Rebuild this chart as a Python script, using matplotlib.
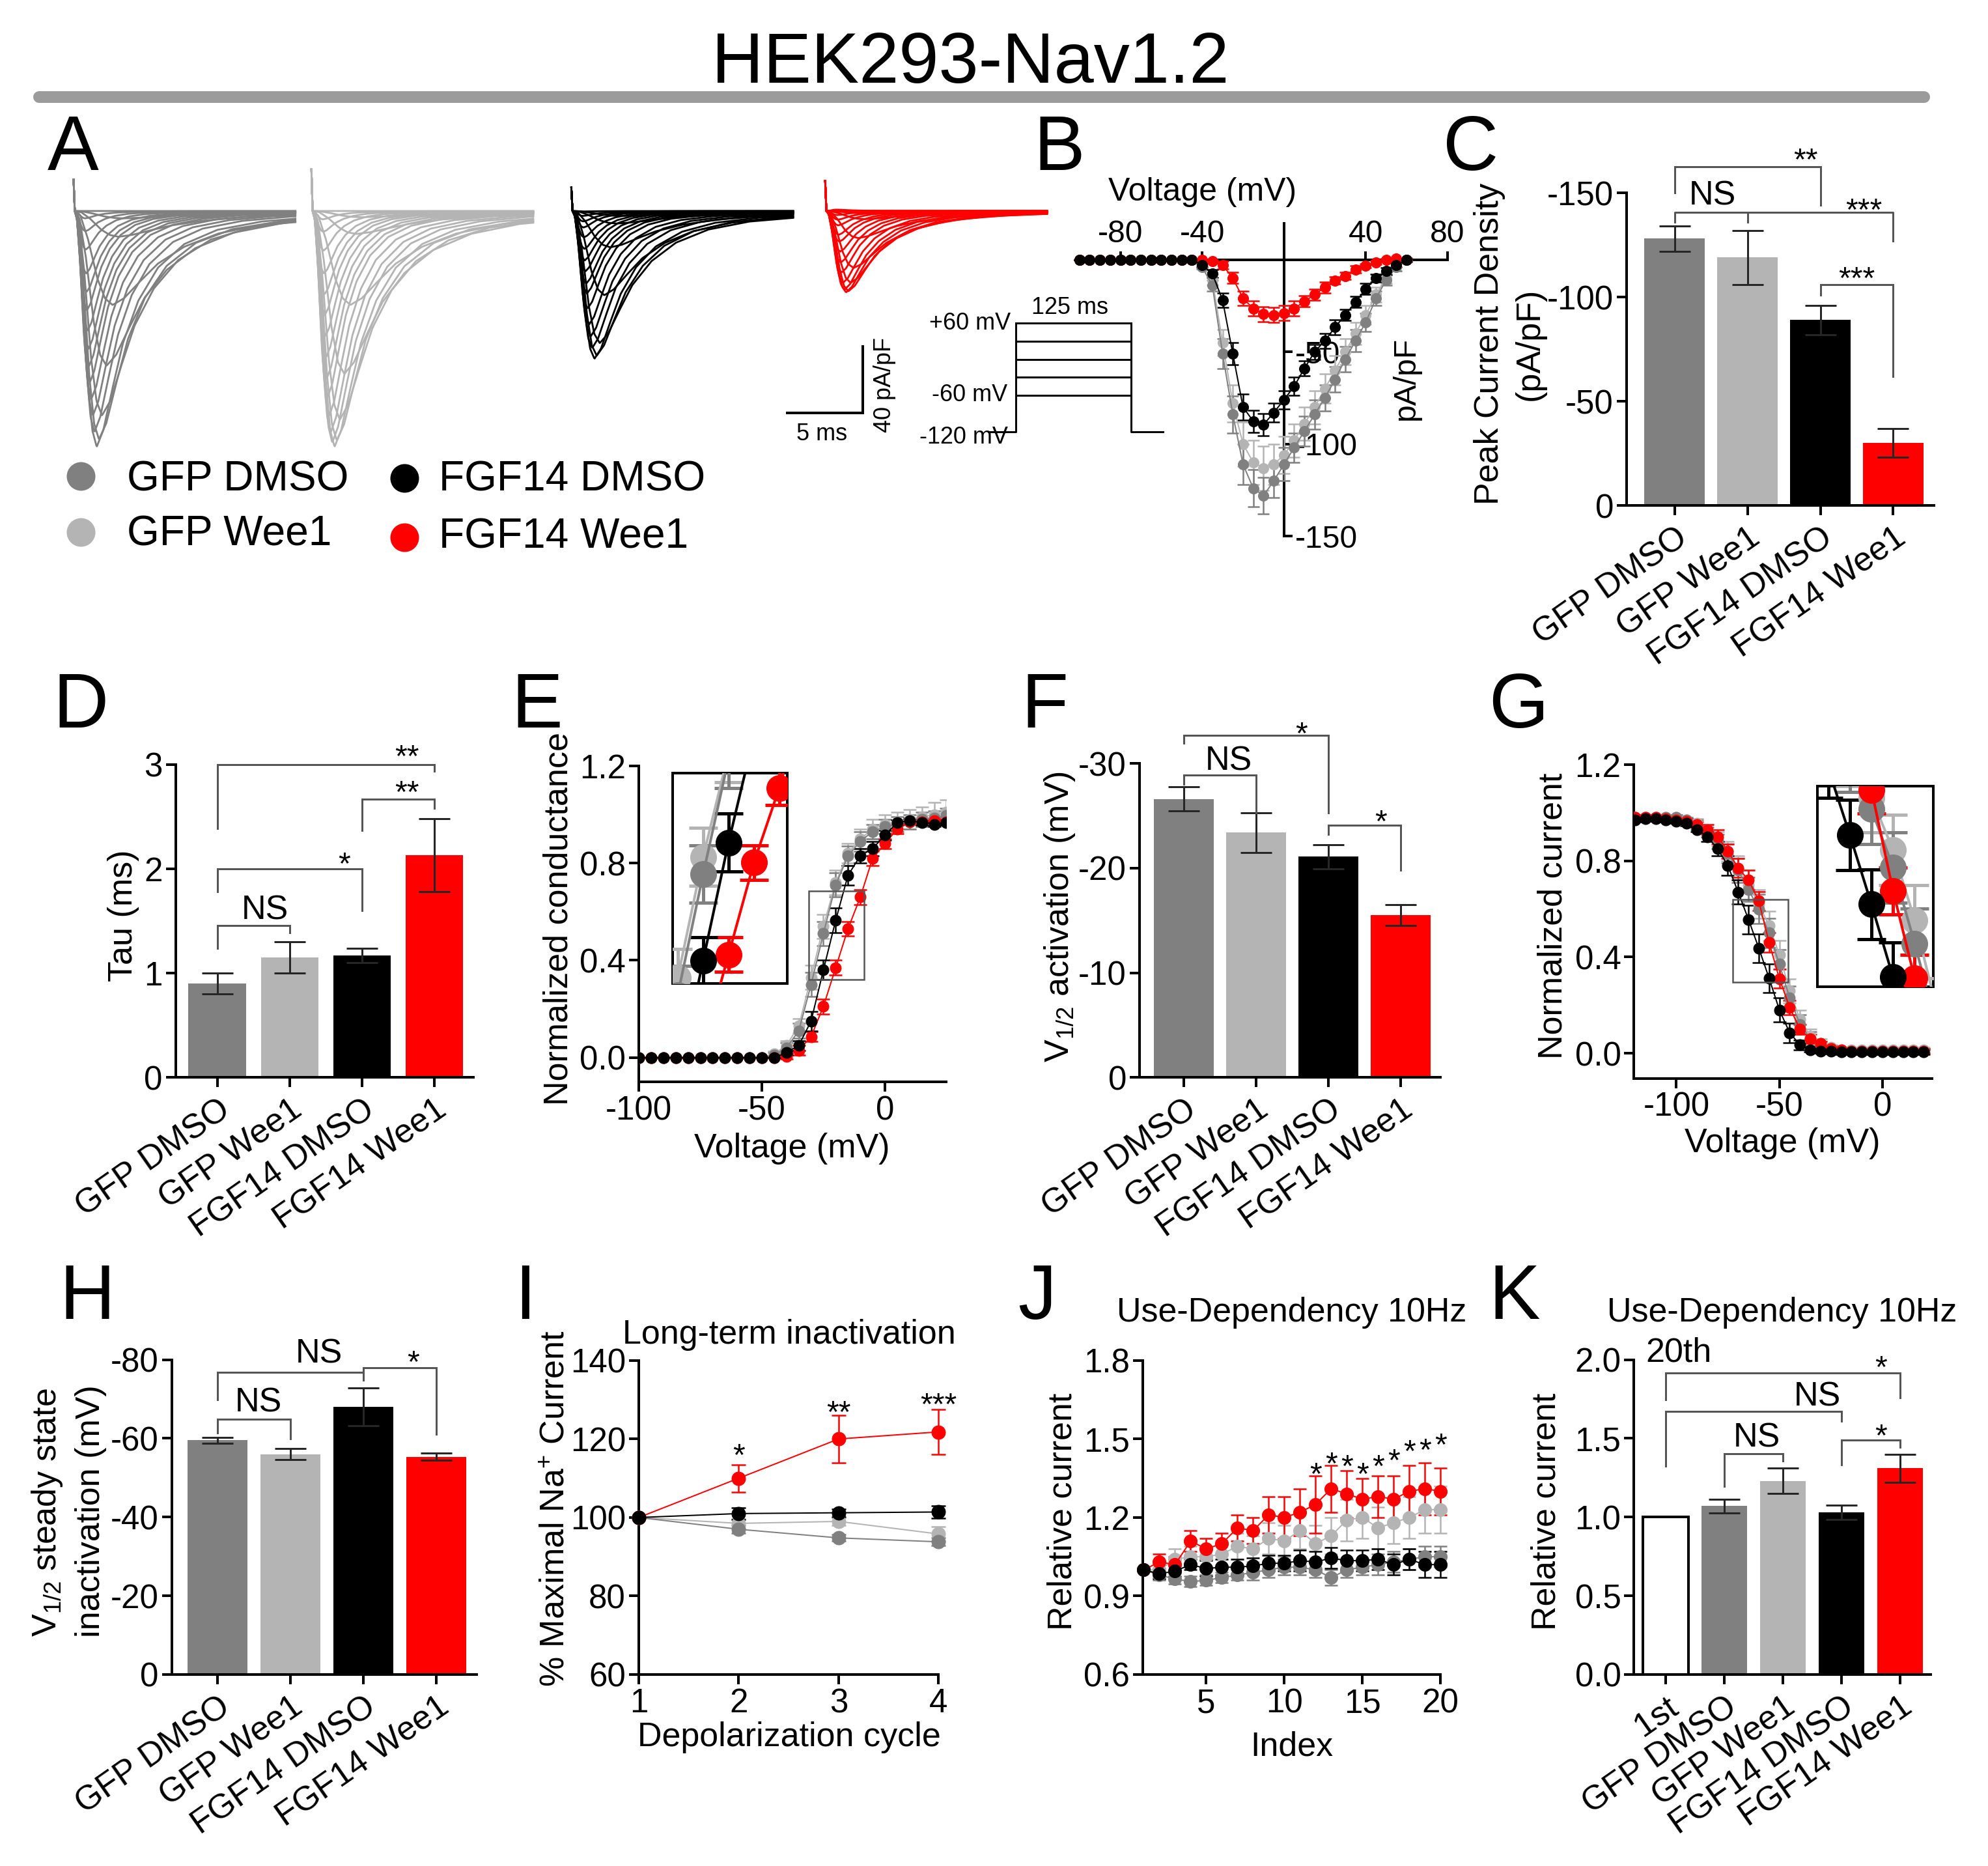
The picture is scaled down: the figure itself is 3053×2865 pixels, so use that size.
import matplotlib
matplotlib.use("Agg")
import matplotlib.pyplot as plt
from matplotlib.lines import Line2D
from matplotlib.patches import Rectangle
import numpy as np

W, H, DPI = 3053, 2865, 72

plt.rcParams["font.family"] = ["Liberation Sans", "DejaVu Sans"]
plt.rcParams["mathtext.fontset"] = "custom"
plt.rcParams["mathtext.rm"] = "Liberation Sans"
plt.rcParams["mathtext.it"] = "Liberation Sans:italic"
plt.rcParams["mathtext.bf"] = "Liberation Sans:bold"
plt.rcParams["axes.unicode_minus"] = False
plt.rcParams["axes.facecolor"] = "none"

GROUPS = ["GFP DMSO", "GFP Wee1", "FGF14 DMSO", "FGF14 Wee1"]
COLORS = {"GFP DMSO": "#808080", "GFP Wee1": "#b4b4b4",
          "FGF14 DMSO": "#000000", "FGF14 Wee1": "#ff0000"}
DRAW_ORDER = ["GFP Wee1", "GFP DMSO", "FGF14 Wee1", "FGF14 DMSO"]

# ---- A: example current families ----
A_PEAK = {"GFP DMSO": 142, "GFP Wee1": 142, "FGF14 DMSO": 89, "FGF14 Wee1": 49}
A_SPIKE = {"GFP DMSO": 19, "GFP Wee1": 25, "FGF14 DMSO": 14, "FGF14 Wee1": 18}
A_START_MS = {"GFP DMSO": 0.56, "GFP Wee1": 16.3, "FGF14 DMSO": 33.5, "FGF14 Wee1": 50.3}
A_SWEEP_MS = 14.6
# time stretch of each sweep, -40 .. +60 mV
A_KINETIC = [3.2, 2.9, 2.5, 2.1, 1.8, 1.6, 1.45, 1.3, 1.2, 1.1, 1.0,
             0.95, 0.9, 0.85, 0.8, 0.78, 0.75, 0.72, 0.7, 0.68, 0.66]
TRACE_T = [0, 0.15, 0.35, 0.6, 0.8, 1.0, 1.3, 1.7, 2.2, 2.9, 3.8, 5.0, 6.5, 8.5, 11.0, 15.0]
TRACE_I = [0, -0.05, -0.3, -0.72, -0.93, -1.0, -0.93, -0.76, -0.56, -0.38, -0.24,
           -0.14, -0.08, -0.045, -0.025, -0.015]
PROTOCOL_STEPS = [60, 30, 0, -30, -60]
PROTOCOL_HOLD = -120
PROTOCOL_MS = 125

# ---- B: I-V (pA/pF), -100..+60 mV ----
IV_V = list(range(-100, 65, 5))
IV = {
    "GFP DMSO": [0, 0, 0, 0, 0, 0, 0, 0, 0, 0, 0, 0,
                 -4, -14, -51, -84, -111, -124, -128, -120, -111, -102, -93,
                 -84, -75, -65, -54, -44, -34, -21, -11, -4, 0],
    "GFP Wee1": [0, 0, 0, 0, 0, 0, 0, 0, 0, 0, 0, 0,
                 -3, -11, -45, -78, -100, -110, -113, -111, -106, -98, -89,
                 -80, -70, -60, -50, -40, -30, -19, -10, -4, 0],
    "FGF14 DMSO": [0, 0, 0, 0, 0, 0, 0, 0, 0, 0, 0, 0,
                   -3, -7.6, -22, -51, -80, -87.6, -89.5, -83, -76, -68.7, -59,
                   -50, -44, -36.6, -30, -23, -16, -10, -6.3, -3, -0.3],
    "FGF14 Wee1": [0, 0, 0, 0, 0, 0, 0, 0, 0, 0, 0, 0,
                   0, -1, -3, -10, -21, -26.5, -29.6, -30, -29, -26.5, -22.7,
                   -19, -15, -11.3, -8.8, -5.3, -3.2, -1.5, -0.3, 0.5, 0],
}
IV_ERR = {
    "GFP DMSO": [0, 0, 0, 0, 0, 0, 0, 0, 0, 0, 0, 0,
                 1, 3, 8, 10, 11, 10, 10, 9, 9, 8, 8, 8, 7, 7, 7, 6, 5, 4, 3, 2, 1],
    "GFP Wee1": [0, 0, 0, 0, 0, 0, 0, 0, 0, 0, 0, 0,
                 1, 3, 7, 10, 12, 12, 12, 11, 10, 9, 9, 9, 8, 8, 7, 6, 5, 4, 3, 2, 1],
    "FGF14 DMSO": [0, 0, 0, 0, 0, 0, 0, 0, 0, 0, 0, 0,
                   1, 2, 4, 6, 7, 6, 6, 5, 5, 5, 4, 4, 4, 4, 3, 3, 3, 2, 2, 1, 1],
    "FGF14 Wee1": [0, 0, 0, 0, 0, 0, 0, 0, 0, 0, 0, 0,
                   0, 1, 2, 3, 4, 4, 4, 4, 4, 4, 3, 3, 3, 2, 2, 2, 1, 1, 1, 0, 0],
}

# ---- C: peak current density ----
C_MEAN = [-128, -119, -89, -30]
C_SEM = [6, 13, 7, 7]

# ---- D: tau ----
D_MEAN = [0.9, 1.15, 1.17, 2.13]
D_SEM = [0.1, 0.15, 0.07, 0.35]

# ---- E: activation (normalized conductance), -100..+25 mV ----
E_V = list(range(-100, 30, 5))
E_G = {
    "GFP DMSO": [0, 0, 0, 0, 0, 0, 0, 0, 0, 0, 0, 0.01, 0.04, 0.11, 0.30, 0.51, 0.71,
                 0.83, 0.89, 0.93, 0.95, 0.96, 0.97, 0.98, 0.985, 0.995],
    "GFP Wee1": [0, 0, 0, 0, 0, 0, 0, 0, 0, 0, 0, 0.015, 0.05, 0.13, 0.33, 0.54, 0.72,
                 0.84, 0.90, 0.94, 0.96, 0.97, 0.98, 0.99, 1.0, 1.01],
    "FGF14 DMSO": [0, 0, 0, 0, 0, 0, 0, 0, 0, 0, 0, 0, 0.02, 0.05, 0.15, 0.36, 0.565,
                   0.75, 0.83, 0.86, 0.915, 0.967, 0.976, 0.967, 0.96, 0.967],
    "FGF14 Wee1": [0, 0, 0, 0, 0, 0, 0, 0, 0, 0, 0, 0, 0.005, 0.03, 0.086, 0.21, 0.37,
                   0.53, 0.66, 0.82, 0.88, 0.94, 0.97, 0.97, 0.976, 0.97],
}
E_ERR = {
    "GFP DMSO": [0, 0, 0, 0, 0, 0, 0, 0, 0, 0, 0, 0.01, 0.02, 0.03, 0.05, 0.05, 0.05,
                 0.04, 0.04, 0.03, 0.03, 0.03, 0.03, 0.03, 0.03, 0.03],
    "GFP Wee1": [0, 0, 0, 0, 0, 0, 0, 0, 0, 0, 0, 0.01, 0.02, 0.03, 0.05, 0.05, 0.05,
                 0.04, 0.04, 0.04, 0.04, 0.04, 0.04, 0.04, 0.05, 0.05],
    "FGF14 DMSO": [0, 0, 0, 0, 0, 0, 0, 0, 0, 0, 0, 0, 0.01, 0.02, 0.04, 0.04, 0.05,
                   0.04, 0.03, 0.03, 0.02, 0.01, 0.01, 0.01, 0.01, 0.01],
    "FGF14 Wee1": [0, 0, 0, 0, 0, 0, 0, 0, 0, 0, 0, 0, 0.01, 0.02, 0.02, 0.03, 0.03,
                   0.03, 0.03, 0.03, 0.02, 0.02, 0.01, 0.01, 0.01, 0.01],
}

# ---- F: V1/2 activation ----
F_MEAN = [-26.6, -23.4, -21.1, -15.5]
F_SEM = [1.15, 1.9, 1.15, 1.0]

# ---- G: steady-state inactivation, -120..+20 mV ----
G_V = list(range(-120, 25, 5))
G_I = {
    "GFP DMSO": [0.98, 0.98, 0.98, 0.98, 0.98, 0.97, 0.95, 0.92, 0.88, 0.83, 0.76, 0.68,
                 0.60, 0.50, 0.37, 0.23, 0.12, 0.06, 0.03, 0.02, 0.01, 0.01, 0.01,
                 0.01, 0.01, 0.01, 0.01, 0.01, 0.01],
    "GFP Wee1": [0.98, 0.98, 0.98, 0.98, 0.98, 0.97, 0.955, 0.93, 0.89, 0.84, 0.77, 0.70,
                 0.62, 0.53, 0.41, 0.26, 0.14, 0.07, 0.04, 0.025, 0.015, 0.015, 0.015,
                 0.015, 0.015, 0.015, 0.015, 0.015, 0.015],
    "FGF14 DMSO": [0.97, 0.975, 0.975, 0.97, 0.965, 0.955, 0.93, 0.90, 0.85, 0.78, 0.67,
                   0.556, 0.437, 0.312, 0.18, 0.085, 0.035, 0.015, 0.01, 0.008, 0.005,
                   0.005, 0.005, 0.005, 0.005, 0.005, 0.005, 0.005, 0.005],
    "FGF14 Wee1": [0.98, 0.98, 0.98, 0.975, 0.97, 0.965, 0.95, 0.93, 0.90, 0.84, 0.77,
                   0.72, 0.633, 0.46, 0.31, 0.19, 0.10, 0.06, 0.04, 0.02, 0.015, 0.01,
                   0.01, 0.01, 0.01, 0.01, 0.01, 0.01, 0.01],
}
G_ERR = {
    "GFP DMSO": [0.01, 0.01, 0.01, 0.01, 0.01, 0.01, 0.02, 0.02, 0.03, 0.04, 0.05, 0.05,
                 0.06, 0.06, 0.06, 0.05, 0.04, 0.03, 0.02, 0.01, 0.01, 0.01, 0.01,
                 0.01, 0.01, 0.01, 0.01, 0.01, 0.01],
    "GFP Wee1": [0.01, 0.01, 0.01, 0.01, 0.01, 0.01, 0.02, 0.02, 0.03, 0.04, 0.05, 0.06,
                 0.06, 0.06, 0.06, 0.05, 0.04, 0.03, 0.02, 0.01, 0.01, 0.01, 0.01,
                 0.01, 0.01, 0.01, 0.01, 0.01, 0.01],
    "FGF14 DMSO": [0.01, 0.01, 0.01, 0.01, 0.01, 0.01, 0.01, 0.02, 0.03, 0.04, 0.05, 0.06,
                   0.06, 0.06, 0.05, 0.04, 0.02, 0.01, 0.01, 0.01, 0.01, 0.01, 0.01,
                   0.01, 0.01, 0.01, 0.01, 0.01, 0.01],
    "FGF14 Wee1": [0.01, 0.01, 0.01, 0.01, 0.01, 0.01, 0.01, 0.02, 0.03, 0.03, 0.04, 0.04,
                   0.04, 0.04, 0.04, 0.03, 0.02, 0.02, 0.01, 0.01, 0.01, 0.01, 0.01,
                   0.01, 0.01, 0.01, 0.01, 0.01, 0.01],
}

# ---- H: V1/2 steady-state inactivation ----
H_MEAN = [-59.5, -56.0, -68.0, -55.3]
H_SEM = [0.8, 1.4, 4.8, 0.9]

# ---- I: long-term inactivation ----
I_CYCLE = [1, 2, 3, 4]
I_MEAN = {"GFP DMSO": [100, 97, 94.8, 93.8], "GFP Wee1": [100, 98.5, 99, 95.8],
          "FGF14 DMSO": [100, 101, 101.2, 101.4], "FGF14 Wee1": [100, 110, 120, 121.8]}
I_SEM = {"GFP DMSO": [0, 1, 0.8, 1], "GFP Wee1": [0, 1.2, 1.0, 1.8],
         "FGF14 DMSO": [0, 1.5, 1, 1.6], "FGF14 Wee1": [0, 3.5, 6, 5.7]}
I_STARS = ["", "*", "**", "***"]

# ---- J: use-dependency 10 Hz ----
J_INDEX = list(range(1, 21))
J_MEAN = {
    "GFP DMSO": [1.0, 0.98, 0.965, 0.955, 0.96, 0.97, 0.98, 0.99, 1.0, 1.01, 1.01, 1.0,
                 0.97, 1.0, 1.01, 1.02, 1.03, 1.04, 1.05, 1.05],
    "GFP Wee1": [1.0, 1.0, 1.04, 1.05, 1.05, 1.06, 1.09, 1.08, 1.12, 1.11, 1.15, 1.10,
                 1.13, 1.19, 1.20, 1.16, 1.18, 1.20, 1.23, 1.23],
    "FGF14 DMSO": [1.0, 0.985, 0.995, 1.02, 1.005, 1.01, 1.01, 1.015, 1.025, 1.025, 1.035,
                   1.03, 1.045, 1.035, 1.035, 1.04, 1.02, 1.04, 1.02, 1.02],
    "FGF14 Wee1": [1.0, 1.03, 1.02, 1.11, 1.08, 1.10, 1.16, 1.15, 1.21, 1.20, 1.22, 1.25,
                   1.31, 1.29, 1.27, 1.28, 1.27, 1.30, 1.31, 1.30],
}
J_SEM = {
    "GFP DMSO": [0, 0.02, 0.02, 0.02, 0.02, 0.02, 0.02, 0.03, 0.03, 0.03, 0.03, 0.03,
                 0.03, 0.03, 0.03, 0.04, 0.04, 0.04, 0.04, 0.04],
    "GFP Wee1": [0, 0.03, 0.04, 0.04, 0.04, 0.05, 0.05, 0.05, 0.06, 0.06, 0.07, 0.07,
                 0.07, 0.08, 0.08, 0.08, 0.08, 0.08, 0.09, 0.09],
    "FGF14 DMSO": [0, 0.02, 0.02, 0.02, 0.03, 0.03, 0.03, 0.03, 0.03, 0.03, 0.04, 0.04,
                   0.04, 0.04, 0.04, 0.04, 0.04, 0.04, 0.05, 0.05],
    "FGF14 Wee1": [0, 0.03, 0.03, 0.04, 0.04, 0.04, 0.05, 0.05, 0.07, 0.08, 0.09, 0.11,
                   0.09, 0.09, 0.08, 0.08, 0.09, 0.10, 0.10, 0.09],
}
J_STAR_INDEX = [12, 13, 14, 15, 16, 17, 18, 19, 20]
J_STAR_Y = [1.40, 1.44, 1.43, 1.40, 1.43, 1.45, 1.485, 1.49, 1.51]

# ---- K: 20th pulse ----
K_LABELS = ["1st"] + GROUPS
K_MEAN = [1.0, 1.07, 1.23, 1.03, 1.31]
K_SEM = [0.0, 0.045, 0.08, 0.045, 0.09]

FS = 52
TICK_FS = 51


def px_axes(fig, left, top, right, bottom):
    return fig.add_axes([left / W, 1 - bottom / H, (right - left) / W, (bottom - top) / H])


def ftext(fig, x, y, s, **kw):
    return fig.text(x / W, 1 - y / H, s, **kw)


def style(ax, labelsize=TICK_FS):
    for s in ["top", "right"]:
        ax.spines[s].set_visible(False)
    for s in ["left", "bottom"]:
        ax.spines[s].set_linewidth(4)
    ax.tick_params(width=4, length=15, labelsize=labelsize, pad=5, direction="out")


def mark(ax, x, y, s, fs=FS, em=0.358):
    # place text so that its visual centre sits on (x, y)
    ax.annotate(s, (x, y), xytext=(0, -em * fs), textcoords="offset points",
                ha="center", va="baseline", fontsize=fs, annotation_clip=False, zorder=6)


def star(ax, x, y, s):
    mark(ax, x, y, s, fs=48, em=0.585)


def bracket(ax, x1, x2, y, y1, y2):
    ax.plot([x1, x1, x2, x2], [y1, y, y, y2], color="#555555", lw=3,
            clip_on=False, zorder=5, solid_joinstyle="miter")


def bar_panel(ax, labels, vals, errs, colors, width, ylim, yticks, ylabels, xlim,
              edge=None):
    x = np.arange(len(vals))
    ax.bar(x, vals, width=width, color=colors, zorder=2,
           edgecolor=edge if edge else colors, linewidth=4 if edge else 0)
    keep = [i for i, e in enumerate(errs) if e > 0]
    ax.errorbar(x[keep], np.array(vals)[keep], yerr=np.array(errs)[keep], fmt="none",
                ecolor="#262626", elinewidth=3, capsize=24, capthick=3, zorder=3)
    style(ax)
    ax.set_xlim(*xlim)
    ax.set_ylim(*ylim)
    ax.set_yticks(yticks)
    ax.set_yticklabels(ylabels)
    ax.set_xticks(x)
    ax.set_xticklabels(labels, rotation=35, ha="right", va="top",
                       rotation_mode="anchor", fontsize=FS)
    ax.tick_params(axis="x", pad=10)


def curves(ax, xs, ys, errs, ms, lw, cap, elw):
    for name in DRAW_ORDER:
        ax.errorbar(xs, ys[name], yerr=errs[name], fmt="-o", color=COLORS[name],
                    ecolor=COLORS[name], ms=ms, lw=lw, elinewidth=elw, capsize=cap,
                    capthick=elw, zorder=3, clip_on=True)


fig = plt.figure(figsize=(W / DPI, H / DPI), dpi=DPI)

# title and rule
ftext(fig, 1490, 127, "HEK293-Nav1.2", fontsize=110, ha="center", va="baseline")
fig.add_artist(Line2D([60 / W, 2955 / W], [1 - 149 / H, 1 - 149 / H], lw=18,
                      color="#9b9b9b", solid_capstyle="round"))

for s, x, y in [("A", 73, 261), ("B", 1587, 261), ("C", 2216, 261),
                ("D", 81, 1117), ("E", 785, 1117), ("F", 1568, 1117), ("G", 2286, 1117),
                ("H", 91, 2025), ("I", 790, 2025), ("J", 1563, 2025), ("K", 2286, 2025)]:
    ftext(fig, x, y, s, fontsize=118, va="baseline", ha="left")

# ---------------- A ----------------
axA = px_axes(fig, 100, 250, 1620, 720)
axA.set_xlim(0, 65.5)
axA.set_ylim(-155.3, 29.0)
axA.axis("off")
for name in GROUPS:
    iv = np.array(IV[name][12:], dtype=float)
    rel = iv / iv.min()
    t0 = A_START_MS[name]
    grid = np.linspace(0, A_SWEEP_MS, 400)
    for r, k in zip(rel, A_KINETIC):
        y = A_PEAK[name] * r * np.interp(grid, np.array(TRACE_T) * k, TRACE_I)
        xx = np.concatenate([[t0], t0 + 0.08 + grid])
        yy = np.concatenate([[A_SPIKE[name]], y])
        axA.plot(xx, yy, color=COLORS[name], lw=2.8, solid_joinstyle="round")
# scale bar 5 ms / 40 pA/pF
axA.plot([52.8 - 5, 52.8, 52.8], [-121.6, -121.6, -121.6 + 40], color="black", lw=4,
         solid_joinstyle="miter")
ftext(fig, 1262, 667, "5 ms", fontsize=36, ha="center", va="center")
ftext(fig, 1358, 591, "40 pA/pF", fontsize=36, ha="center", va="center", rotation=90)

# voltage protocol
axP = px_axes(fig, 1518, 496, 1786, 662.5)
axP.set_xlim(-30, 160)
axP.set_ylim(PROTOCOL_HOLD, 60)
axP.axis("off")
for lv in PROTOCOL_STEPS:
    axP.plot([0, PROTOCOL_MS], [lv, lv], color="black", lw=3, clip_on=False)
axP.plot([-30, 0, 0], [PROTOCOL_HOLD, PROTOCOL_HOLD, max(PROTOCOL_STEPS)],
         color="black", lw=3, clip_on=False)
axP.plot([PROTOCOL_MS, PROTOCOL_MS, 160], [max(PROTOCOL_STEPS), PROTOCOL_HOLD, PROTOCOL_HOLD],
         color="black", lw=3, clip_on=False)
axP.text(-6, 60, "+60 mV", fontsize=36, ha="right", va="center")
axP.text(-9, -60, "-60 mV", fontsize=36, ha="right", va="center")
axP.text(-9, -130, "-120 mV", fontsize=36, ha="right", va="center")
axP.text(58.8, 85, "125 ms", fontsize=36, ha="center", va="center")

# legend
for name, (cx, cy), (tx, ty) in [("GFP DMSO", (124, 731), (195, 736)),
                                  ("GFP Wee1", (124, 817), (195, 821)),
                                  ("FGF14 DMSO", (621, 734), (674, 736)),
                                  ("FGF14 Wee1", (621, 825), (674, 824))]:
    fig.add_artist(Line2D([cx / W], [1 - cy / H], marker="o", ms=44, ls="none",
                          color=COLORS[name], markeredgewidth=0))
    ftext(fig, tx, ty, name, fontsize=64, ha="left", va="center")

# ---------------- B ----------------
axB = px_axes(fig, 1642, 342, 2223, 829)
axB.set_xlim(-105, 80)
axB.set_ylim(-152, 20)
curves(axB, IV_V, IV, IV_ERR, ms=16, lw=2, cap=9, elw=2.5)
axB.spines["left"].set_visible(False)
axB.spines["bottom"].set_visible(False)
axB.spines["top"].set_position(("data", 0))
axB.spines["top"].set_bounds(-100, 80)
axB.spines["right"].set_position(("data", 0))
axB.spines["right"].set_bounds(-150, 19.5)
for s in ["top", "right"]:
    axB.spines[s].set_linewidth(4)
axB.xaxis.tick_top()
axB.yaxis.tick_right()
axB.set_xticks([-80, -40, 40, 80])
axB.set_yticks([-50, -100, -150])
axB.tick_params(width=4, length=13, labelsize=48, pad=4)
ftext(fig, 1847, 295, "Voltage (mV)", fontsize=50, ha="center", va="center")
ftext(fig, 2159, 581, "pA/pF", fontsize=48, ha="center", va="center", rotation=90)

# ---------------- C ----------------
axC = px_axes(fig, 2498, 296, 2970, 776)
bar_panel(axC, GROUPS, C_MEAN, C_SEM, [COLORS[g] for g in GROUPS], 0.83,
          (0, -150), [0, -50, -100, -150], ["0", "-50", "-100", "-150"], (-0.66, 3.56))
bracket(axC, 0, 2, -162.5, -150, -144)
star(axC, 1.8, -170, "**")
axC.plot([0, 0, 3, 3], [-136, -140.6, -140.6, -127], color="#555555", lw=3,
         clip_on=False, zorder=5)
axC.plot([1, 1], [-140.6, -136], color="#555555", lw=3, clip_on=False, zorder=5)
mark(axC, 0.52, -150, "NS")
star(axC, 2.6, -146, "***")
bracket(axC, 2, 3, -106, -101, -62)
star(axC, 2.5, -113, "***")
ftext(fig, 2288, 528, "Peak Current Density", fontsize=FS, rotation=90, ha="center", va="center")
ftext(fig, 2349, 528, "(pA/pF)", fontsize=FS, rotation=90, ha="center", va="center")

# ---------------- D ----------------
axD = px_axes(fig, 269.5, 1174, 727, 1654.3)
bar_panel(axD, GROUPS, D_MEAN, D_SEM, [COLORS[g] for g in GROUPS], 0.8,
          (0, 3), [0, 1, 2, 3], ["0", "1", "2", "3"], (-0.58, 3.54))
bracket(axD, 0, 3, 3.0, 2.385, 2.94)
star(axD, 2.62, 3.16, "**")
bracket(axD, 2, 3, 2.666, 2.37, 2.58)
star(axD, 2.62, 2.82, "**")
bracket(axD, 0, 2, 2.0, 1.78, 1.6)
star(axD, 1.75, 2.13, "*")
bracket(axD, 0, 1, 1.46, 1.24, 1.39)
mark(axD, 0.66, 1.63, "NS")
ftext(fig, 189, 1406, "Tau (ms)", fontsize=FS, rotation=90, ha="center", va="center")

# ---------------- E ----------------
axE = px_axes(fig, 981, 1176, 1453.5, 1661)
curves(axE, E_V, E_G, E_ERR, ms=17, lw=2, cap=10, elw=2.5)
style(axE)
axE.set_xlim(-100, 25)
axE.set_ylim(-0.1, 1.2)
axE.set_xticks([-100, -50, 0])
axE.set_yticks([0, 0.4, 0.8, 1.2])
axE.set_yticklabels(["0.0", "0.4", "0.8", "1.2"])
axE.add_patch(Rectangle((-31, 0.32), 22.5, 0.365, fill=False, ec="#555555", lw=2.5, zorder=4))
insE = px_axes(fig, 1033, 1187.5, 1208.5, 1510)
insE.set_facecolor("white")
curves(insE, E_V, E_G, E_ERR, ms=40, lw=4, cap=22, elw=5)
insE.set_xlim(-31, -8.5)
insE.set_ylim(0.32, 0.685)
insE.set_xticks([])
insE.set_yticks([])
for s in insE.spines.values():
    s.set_linewidth(4)
ftext(fig, 858, 1411, "Normalized conductance", fontsize=FS, rotation=90, ha="center", va="center")
ftext(fig, 1216, 1763, "Voltage (mV)", fontsize=FS, ha="center", va="center")

# ---------------- F ----------------
axF = px_axes(fig, 1750, 1172, 2212, 1654.3)
bar_panel(axF, GROUPS, F_MEAN, F_SEM, [COLORS[g] for g in GROUPS], 0.83,
          (0, -30), [0, -10, -20, -30], ["0", "-10", "-20", "-30"], (-0.61, 3.55))
bracket(axF, 0, 2, -32.7, -31.95, -25.3)
star(axF, 1.63, -33.7, "*")
bracket(axF, 0, 1, -28.9, -28.0, -25.3)
mark(axF, 0.62, -30.5, "NS")
bracket(axF, 2, 3, -24.1, -23.2, -19.8)
star(axF, 2.73, -25.3, "*")
ftext(fig, 1627, 1407, r"V$_{\mathregular{1/2}}$ activation (mV)", fontsize=FS,
      rotation=90, ha="center", va="center")

# ---------------- G ----------------
axG = px_axes(fig, 2509.4, 1173.8, 2967, 1656)
curves(axG, G_V, G_I, G_ERR, ms=17, lw=2, cap=10, elw=2.5)
style(axG)
axG.set_xlim(-120.5, 24)
axG.set_ylim(-0.105, 1.2)
axG.set_xticks([-100, -50, 0])
axG.set_yticks([0, 0.4, 0.8, 1.2])
axG.set_yticklabels(["0.0", "0.4", "0.8", "1.2"])
axG.add_patch(Rectangle((-72.5, 0.296), 26.8, 0.344, fill=False, ec="#555555", lw=2.5, zorder=4))
insG = px_axes(fig, 2791, 1206.6, 2969, 1514.8)
insG.set_facecolor("white")
curves(insG, G_V, G_I, G_ERR, ms=40, lw=4, cap=22, elw=5)
insG.set_xlim(-72.5, -45.7)
insG.set_ylim(0.296, 0.64)
insG.set_xticks([])
insG.set_yticks([])
for s in insG.spines.values():
    s.set_linewidth(4)
ftext(fig, 2385, 1406, "Normalized current", fontsize=FS, rotation=90, ha="center", va="center")
ftext(fig, 2737, 1755, "Voltage (mV)", fontsize=FS, ha="center", va="center")

# ---------------- H ----------------
axH = px_axes(fig, 263.7, 2087.6, 732, 2571)
bar_panel(axH, GROUPS, H_MEAN, H_SEM, [COLORS[g] for g in GROUPS], 0.82,
          (0, -80), [0, -20, -40, -60, -80], ["0", "-20", "-40", "-60", "-80"], (-0.63, 3.55))
bracket(axH, 0, 1, -64.9, -61.4, -59.9)
mark(axH, 0.56, -69.9, "NS")
bracket(axH, 0, 2, -76.8, -69.9, -74.8)
mark(axH, 1.385, -82.3, "NS")
bracket(axH, 2, 3, -78.0, -75.3, -61.1)
star(axH, 2.68, -81.6, "*")
ftext(fig, 73, 2322, r"V$_{\mathregular{1/2}}$ steady state", fontsize=FS, rotation=90,
      ha="center", va="center")
ftext(fig, 140, 2320, "inactivation (mV)", fontsize=FS, rotation=90, ha="center", va="center")

# ---------------- I ----------------
axI = px_axes(fig, 981, 2088.8, 1441.4, 2571)
for name in DRAW_ORDER:
    axI.errorbar(I_CYCLE, I_MEAN[name], yerr=I_SEM[name], fmt="-o", color=COLORS[name],
                 ms=21, lw=2, elinewidth=2.5, capsize=11, capthick=2.5, zorder=3,
                 clip_on=False)
style(axI)
axI.set_xlim(1, 4)
axI.set_ylim(60, 140)
axI.set_xticks(I_CYCLE)
axI.set_yticks([60, 80, 100, 120, 140])
for x, s, y in zip(I_CYCLE, I_STARS, [0, 118, 129, 131]):
    if s:
        star(axI, x, y, s)
ftext(fig, 1212, 2050, "Long-term inactivation", fontsize=FS, ha="center", va="center")
ftext(fig, 853, 2316, r"% Maximal Na$^{\mathregular{+}}$ Current", fontsize=FS, rotation=90,
      ha="center", va="center")
ftext(fig, 1212, 2667, "Depolarization cycle", fontsize=FS, ha="center", va="center")

# ---------------- J ----------------
axJ = px_axes(fig, 1754.7, 2088.8, 2212.2, 2571)
for name in DRAW_ORDER:
    axJ.errorbar(J_INDEX, J_MEAN[name], yerr=J_SEM[name], fmt="-o", color=COLORS[name],
                 ms=20, lw=2, elinewidth=2.5, capsize=10, capthick=2.5, zorder=3,
                 clip_on=False)
style(axJ)
axJ.set_xlim(0.925, 20)
axJ.set_ylim(0.6, 1.8)
axJ.set_xticks([5, 10, 15, 20])
axJ.set_yticks([0.6, 0.9, 1.2, 1.5, 1.8])
axJ.set_yticklabels(["0.6", "0.9", "1.2", "1.5", "1.8"])
for x, y in zip(J_STAR_INDEX, J_STAR_Y):
    star(axJ, x, y, "*")
ftext(fig, 1984, 2016, "Use-Dependency 10Hz", fontsize=FS, ha="center", va="center")
ftext(fig, 1632, 2321, "Relative current", fontsize=FS, rotation=90, ha="center", va="center")
ftext(fig, 1984, 2682, "Index", fontsize=FS, ha="center", va="center")

# ---------------- K ----------------
axK = px_axes(fig, 2509.4, 2087.6, 2965, 2571)
bar_panel(axK, K_LABELS, K_MEAN, K_SEM, ["white"] + [COLORS[g] for g in GROUPS], 0.78,
          (0, 2), [0, 0.5, 1.0, 1.5, 2.0], ["0.0", "0.5", "1.0", "1.5", "2.0"], (-0.54, 4.52))
axK.patches[0].set_edgecolor("black")
axK.patches[0].set_linewidth(4)
for p in axK.patches[1:]:
    p.set_linewidth(0)
bracket(axK, 0, 4, 1.916, 1.746, 1.758)
star(axK, 3.67, 2.007, "*")
bracket(axK, 0, 3, 1.671, 1.322, 1.609)
mark(axK, 2.59, 1.783, "NS")
bracket(axK, 1, 2, 1.402, 1.197, 1.359)
mark(axK, 1.55, 1.521, "NS")
bracket(axK, 3, 4, 1.489, 1.334, 1.446)
star(axK, 3.67, 1.572, "*")
ftext(fig, 2737, 2016, "Use-Dependency 10Hz", fontsize=FS, ha="center", va="center")
ftext(fig, 2578, 2077, "20th", fontsize=FS, ha="center", va="center")
ftext(fig, 2375, 2321, "Relative current", fontsize=FS, rotation=90, ha="center", va="center")

fig.savefig("out.png", dpi=DPI, facecolor="white")
